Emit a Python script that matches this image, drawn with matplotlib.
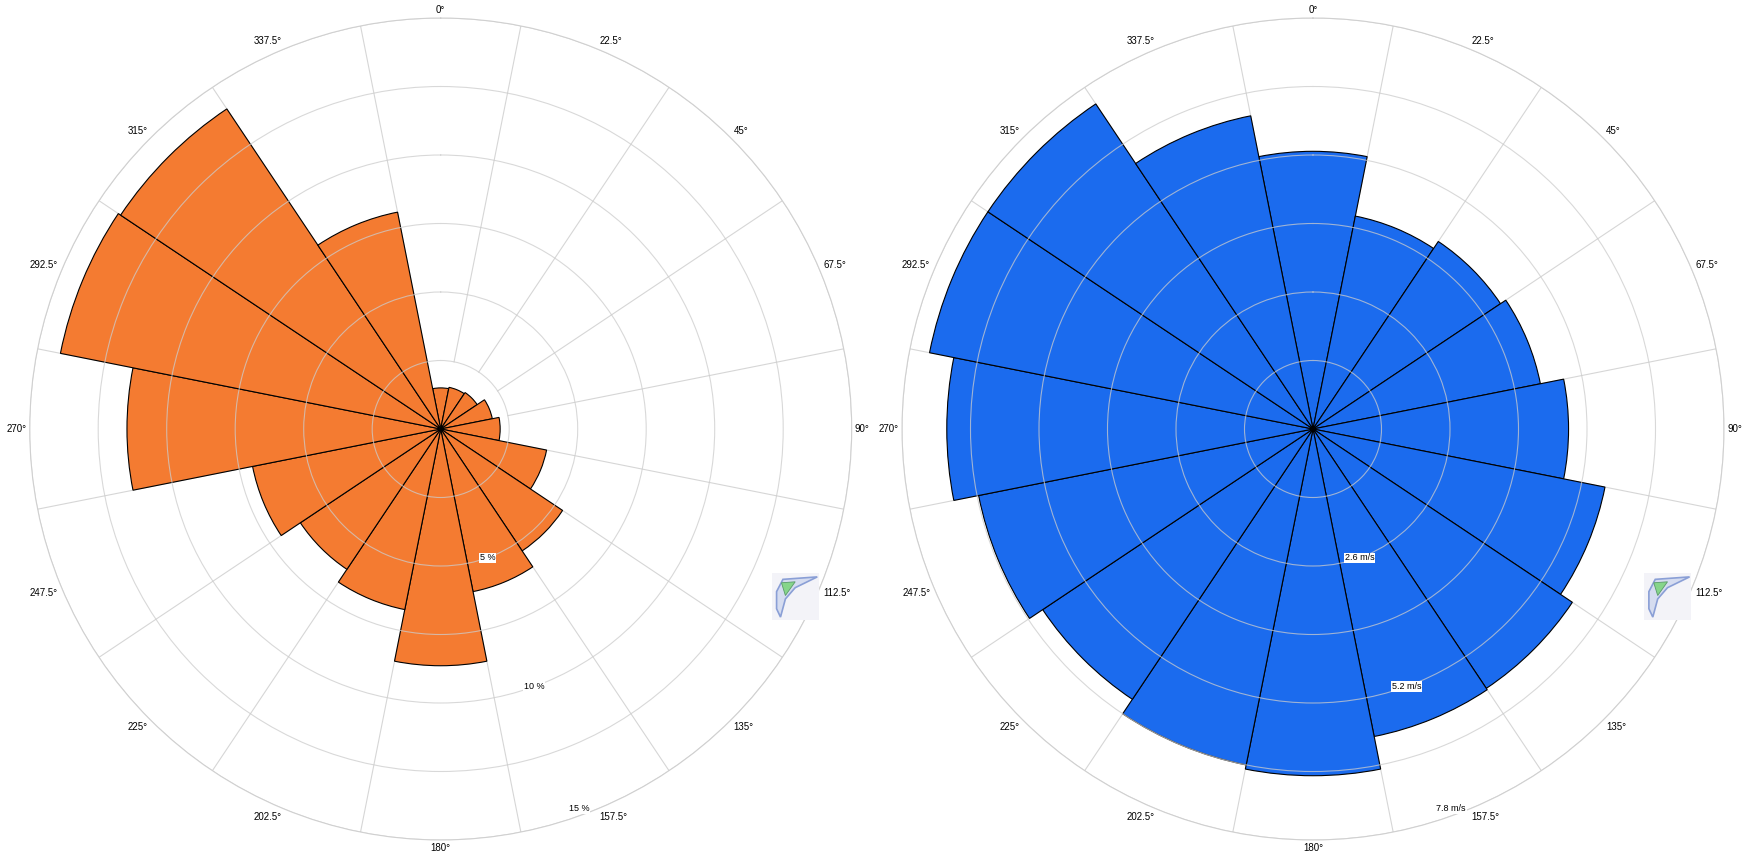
import numpy as np
import matplotlib
matplotlib.use('Agg')
import matplotlib.pyplot as plt
from matplotlib.patches import Polygon, Rectangle

plt.rcParams['font.family'] = ['Liberation Sans', 'DejaVu Sans']

#-------------------------------------------------------------------------------
# data
directions = np.arange(0, 360, 22.5)          # sector centres, degrees
freq_pct = [1.5, 1.55, 1.6, 1.92, 2.17, 3.94, 5.35, 6.05,
            8.64, 6.72, 6.16, 7.0, 11.45, 14.15, 14.05, 8.07]
speed_ms = [5.27, 4.12, 4.28, 4.40, 4.85, 5.65, 5.92, 5.95,
            6.58, 6.5, 6.17, 6.47, 6.95, 7.42, 7.42, 6.06]

freq_rings = [2.5, 5, 7.5, 10, 12.5, 15]
freq_labels = {5: '5 %', 10: '10 %', 15: '15 %'}
speed_rings = [1.3, 2.6, 3.9, 5.2, 6.5, 7.8]
speed_labels = {2.6: '2.6 m/s', 5.2: '5.2 m/s', 7.8: '7.8 m/s'}

ORANGE = '#F47B31'
BLUE = '#1B6BEE'
GRID = '#cccccc'

#-------------------------------------------------------------------------------
W, H = 1744, 859
R = 411.0
fig = plt.figure(figsize=(W / 100, H / 100), dpi=100)


def rose(cx, cy, values, rings, rlabels, color):
    ax = fig.add_axes([(cx - R) / W, (H - cy - R) / H, 2 * R / W, 2 * R / H],
                      projection='polar')
    ax.set_theta_zero_location('N')
    ax.set_theta_direction(-1)
    rmax = rings[-1]
    ax.set_ylim(0, rmax)

    theta = np.deg2rad(directions)
    width = np.deg2rad(22.5)
    ax.bar(theta, values, width=width, color=color, edgecolor='black',
           linewidth=0.8, zorder=1)

    # spokes on sector borders, starting at the first ring
    for b in theta + width / 2:
        ax.plot([b, b], [rings[0], rmax], color=GRID, alpha=0.8, lw=0.8,
                zorder=0.5)

    # rings drawn over the bars
    ax.set_yticks(rings)
    ax.set_yticklabels([])
    ax.yaxis.grid(True, color=GRID, alpha=0.75, lw=0.8)
    ax.yaxis.set_zorder(2.5)
    ax.xaxis.grid(False)
    ax.set_xticks([])
    ax.spines['polar'].set_color('#d3d3d3')
    ax.spines['polar'].set_linewidth(0.8)

    # radial labels
    lab_t = np.deg2rad(160)
    for v, s in rlabels.items():
        rr = v if v < rmax else v * 0.983
        ax.text(lab_t, rr, s, ha='center', va='center', fontsize=6.5,
                zorder=4,
                bbox=dict(boxstyle='square,pad=0.08', fc='white', ec='none'))

    # direction labels, outside the outer ring
    for d in directions:
        a = np.deg2rad(d)
        s, c = np.sin(a), np.cos(a)
        ha = 'left' if s > 0.1 else ('right' if s < -0.1 else 'center')
        va = 'bottom' if c > 0.1 else ('top' if c < -0.1 else 'center')
        ax.text(a, rmax * 1.008, '{:g}°'.format(d), ha=ha, va=va,
                fontsize=7, clip_on=False)

    # small logo
    lx, ly = cx + 330, cy + 143
    lax = fig.add_axes([lx / W, (H - ly - 49) / H, 49 / W, 49 / H])
    lax.set_xlim(0, 1)
    lax.set_ylim(0, 1)
    lax.axis('off')
    lax.add_patch(Rectangle((0.02, 0.02), 0.96, 0.96, fc='#f3f3f8',
                            ec='none'))
    lax.add_patch(Polygon([(0.12, 0.6), (0.25, 0.85), (0.95, 0.9),
                           (0.5, 0.68), (0.3, 0.45), (0.2, 0.08),
                           (0.12, 0.25)], closed=True, fc='#d5dcf0',
                          ec='#8a9fd6', lw=1.2))
    lax.add_patch(Polygon([(0.22, 0.78), (0.5, 0.8), (0.3, 0.52)],
                          closed=True, fc='#86d58a', ec='#5a9a6a', lw=0.6))
    return ax


rose(440.7, 429, freq_pct, freq_rings, freq_labels, ORANGE)
rose(1313, 429, speed_ms, speed_rings, speed_labels, BLUE)

fig.savefig('out.png', dpi=100)
